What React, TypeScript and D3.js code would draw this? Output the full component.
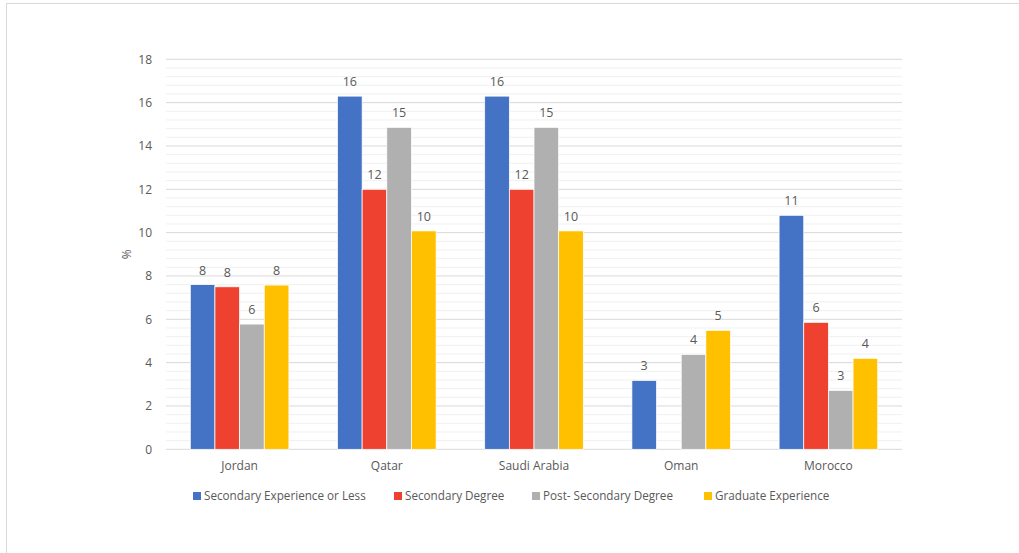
import React from "react";
import * as d3 from "d3";

const countries = ["Jordan", "Qatar", "Saudi Arabia", "Oman", "Morocco"];
const seriesNames = [
  "Secondary Experience or Less",
  "Secondary Degree",
  "Post- Secondary Degree",
  "Graduate Experience",
];
const secondaryLess = [7.6, 16.3, 16.3, 3.18, 10.8];
const secondaryDegree = [7.5, 12.0, 12.0, 0, 5.86];
const postSecondary = [5.78, 14.86, 14.86, 4.38, 2.72];
const graduate = [7.58, 10.08, 10.08, 5.49, 4.2];
const colors = ["#4472C4", "#EE4130", "#B0B0B0", "#FFC000"];
const yTicks = [0, 2, 4, 6, 8, 10, 12, 14, 16, 18];

const W = 1019;
const H = 553;
const font = "'Open Sans', sans-serif";

export default function App() {
  const series = [secondaryLess, secondaryDegree, postSecondary, graduate];
  const left = 166;
  const right = 902;
  const top = 59.3;
  const bottom = 449.3;
  const x = d3.scaleBand<string>().domain(countries).range([left, right]).paddingInner(0.33).paddingOuter(0.165);
  const x1 = d3.scaleBand<number>().domain([0, 1, 2, 3]).range([0, x.bandwidth()]);
  const y = d3.scaleLinear().domain([0, 18]).range([bottom, top]);
  const minor = d3.range(0, 18.001, 0.4).filter((v) => Math.abs(v / 2 - Math.round(v / 2)) > 1e-6);

  const legendX = [193, 394, 532, 704];
  return (
    <svg width={W} height={H} style={{ position: "absolute", left: 0, top: 0, background: "#fff" }}>
      <rect x={6.5} y={3.5} width={1030} height={600} fill="#fff" stroke="#d9d9d9" />
      {minor.map((v, i) => (
        <line key={"m" + i} x1={left} x2={right} y1={y(v)} y2={y(v)} stroke="#f0f0f0" strokeWidth={1} />
      ))}
      {yTicks.map((v) => (
        <g key={"t" + v}>
          <line x1={left} x2={right} y1={y(v)} y2={y(v)} stroke="#d9d9d9" strokeWidth={1} />
          <text x={152} y={y(v)} dy="0.35em" textAnchor="end" fontFamily={font} fontSize={12} fill="#595959">
            {v}
          </text>
        </g>
      ))}
      <text transform={`translate(131,${(top + bottom) / 2}) rotate(-90)`} textAnchor="middle" fontFamily={font} fontSize={12} fill="#595959">
        %
      </text>
      {countries.map((c, ci) => (
        <g key={c} transform={`translate(${x(c)},0)`}>
          {series.map((s, si) =>
            s[ci] > 0 ? (
              <g key={si}>
                <rect
                  x={x1(si)}
                  y={y(s[ci])}
                  width={x1.bandwidth()}
                  height={y(0) - y(s[ci])}
                  fill={colors[si]}
                  stroke="#fff"
                  strokeWidth={0.75}
                />
                <text
                  x={(x1(si) as number) + x1.bandwidth() / 2}
                  y={y(s[ci]) - 10}
                  textAnchor="middle"
                  fontFamily={font}
                  fontSize={12.5}
                  fill="#595959"
                >
                  {d3.format(".0f")(s[ci])}
                </text>
              </g>
            ) : null
          )}
          <text x={x.bandwidth() / 2} y={470} textAnchor="middle" fontFamily={font} fontSize={12} fill="#595959">
            {c}
          </text>
        </g>
      ))}
      {seriesNames.map((n, i) => (
        <g key={n} transform={`translate(${legendX[i]},496)`}>
          <rect x={0} y={-4} width={8} height={8} fill={colors[i]} />
          <text x={11} y={0} dy="0.35em" fontFamily={font} fontSize={11.7} fill="#595959">
            {n}
          </text>
        </g>
      ))}
    </svg>
  );
}
